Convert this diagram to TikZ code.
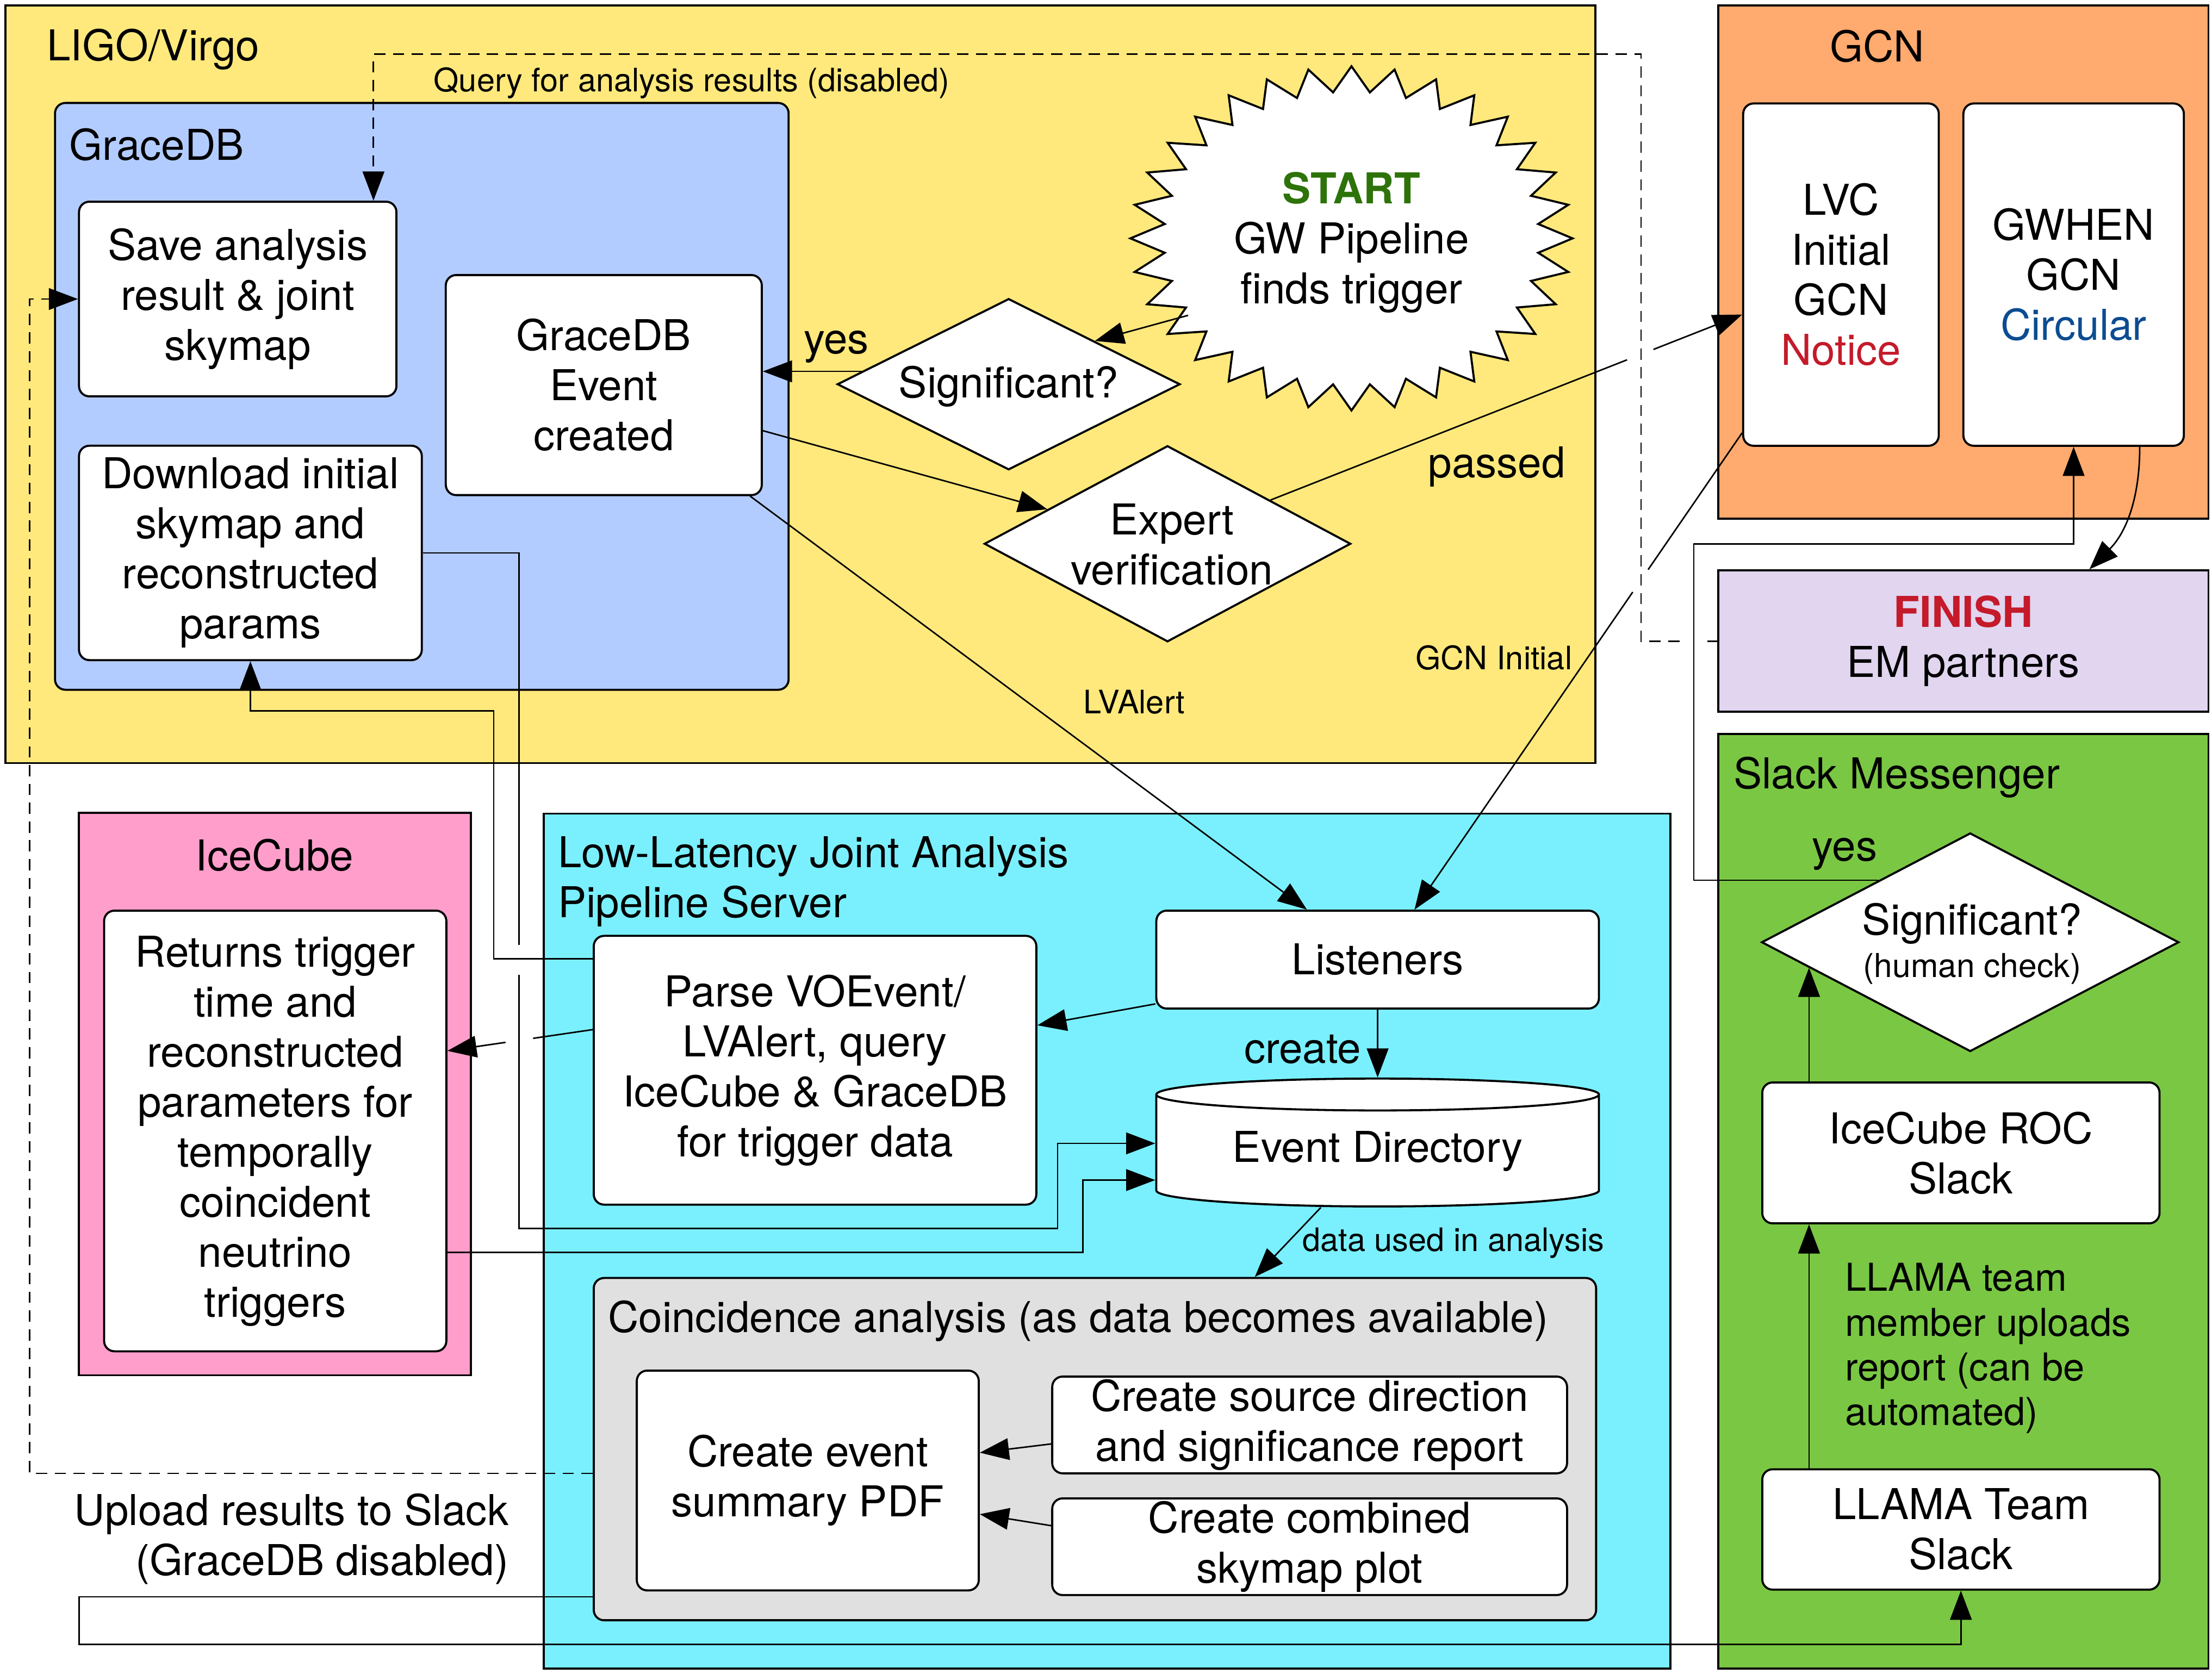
\documentclass[tikz,border=0pt]{standalone}
\usepackage{fontspec}
\setmainfont{TeX Gyre Heros}
\usetikzlibrary{shapes.geometric,arrows.meta,calc}
\definecolor{ligoyel}{RGB}{255,233,124}
\definecolor{gdblue}{RGB}{179,204,255}
\definecolor{gcnor}{RGB}{255,170,110}
\definecolor{finpur}{RGB}{225,213,240}
\definecolor{slackgr}{RGB}{122,199,68}
\definecolor{icepink}{RGB}{255,158,203}
\definecolor{srvcyan}{RGB}{122,240,255}
\definecolor{coincgr}{RGB}{224,224,224}
\definecolor{startgr}{RGB}{45,115,10}
\definecolor{finred}{RGB}{196,26,42}
\definecolor{circblue}{RGB}{12,76,145}
\tikzset{
  grp/.style={draw, line width=1.1pt},
  box/.style={draw, fill=white, rounded corners=5.5pt, line width=1.1pt, align=center},
  dia/.style={draw, fill=white, diamond, line width=1.1pt},
  arr/.style={line width=0.8pt, -{Triangle[length=15.5pt,width=11.5pt]}},
  dashline/.style={dash pattern=on 6pt off 4pt},
  small/.style={font=\fontsize{17.2}{20.6}\selectfont}
}
\begin{document}
\begin{tikzpicture}[x=0.75pt, y=-0.75pt, every node/.style={font=\fontsize{22.6}{26.6}\selectfont, inner sep=0pt}]
\fill[white] (0,0) rectangle (1568,1191);
\useasboundingbox (0,0) rectangle (1568,1191);

\node[grp, fill=ligoyel, minimum width=845.25pt, minimum height=402.75pt] (ligo) at (567.5,272.5) {};
\node[grp, fill=gdblue, rounded corners=5.5pt, minimum width=390pt, minimum height=312pt] (gracedb) at (299,281) {};
\node[grp, fill=gcnor, minimum width=260.6pt, minimum height=272.7pt] (gcn) at (1391.75,185.8) {};
\node[grp, fill=finpur, minimum width=260.6pt, minimum height=75.2pt, align=center] (finish) at (1391.75,454.5) {{\color{finred}\bfseries FINISH}\\EM partners};
\node[grp, fill=slackgr, minimum width=260.6pt, minimum height=496.9pt] (slackm) at (1391.75,851.75) {};
\node[grp, fill=icepink, minimum width=208.35pt, minimum height=299pt] (icecube) at (194.9,775.65) {};
\node[grp, fill=srvcyan, minimum width=598.95pt, minimum height=454.65pt] (server) at (784.7,879.9) {};
\node[grp, fill=coincgr, rounded corners=5.5pt, minimum width=532.9pt, minimum height=182pt] (coinc) at (776.15,1027.35) {};

\node[anchor=west] (ligoLbl) at (33,35) {LIGO/Virgo};
\node[anchor=west] (gdLbl) at (49,102.5) {GraceDB};
\node (gcnLbl) at (1330.6,32.7) {GCN};
\node (iceLbl) at (194.6,606.4) {IceCube};
\node[anchor=west] (slackLbl) at (1228.7,551) {Slack Messenger};
\node[anchor=west, align=left] (srvLbl) at (395.3,625) {Low-Latency Joint Analysis\\Pipeline Server};
\node[anchor=west] (coincLbl) at (430.7,936.4) {Coincidence analysis (as data becomes available)};

\node[box, minimum width=168.75pt, minimum height=103.5pt] (save) at (168.5,212) {Save analysis\\result \& joint\\skymap};
\node[box, minimum width=168pt, minimum height=117pt] (gde) at (428,273) {GraceDB\\Event\\created};
\node[box, minimum width=182.25pt, minimum height=114pt] (dl) at (177.5,392) {Download initial\\skymap and\\reconstructed\\params};

\draw[line width=1.1pt, fill=white, shift={(958,169)}] (90:156.7 and 122)
  \foreach \i in {1,...,63} { -- ({90+5.625*\i}:{156.7-23.7*mod(\i,2)} and {122-18*mod(\i,2)}) } -- cycle;
\node[ellipse, minimum width=199.5pt, minimum height=156pt, align=center] (start) at (958,172) {{\color{startgr}\bfseries START}\\GW Pipeline\\finds trigger};

\node[dia, minimum width=182.25pt, minimum height=91pt] (sig1) at (715,272.4) {};
\node (sig1Txt) at (715,274) {Significant?};
\node[dia, minimum width=194.8pt, minimum height=104.25pt] (expert) at (827.6,385.5) {};
\node[align=center] (expertTxt) at (830.7,386) {Expert\\verification};

\node[box, minimum width=104pt, minimum height=182pt] (lvc) at (1305,194.7) {LVC\\Initial\\GCN\\{\color{finred}Notice}};
\node[box, minimum width=117.2pt, minimum height=182pt] (gwhen) at (1469.9,194.7) {GWHEN\\GCN\\{\color{circblue}Circular}};

\node[dia, minimum width=221.85pt, minimum height=116.2pt] (sig2) at (1396.6,668) {};
\node[align=center] (sig2Txt) at (1398,669) {Significant?\\[-4pt]{\fontsize{17.5}{20}\selectfont (human check)}};
\node[box, minimum width=211.2pt, minimum height=74.9pt] (roc) at (1390,817.35) {IceCube ROC\\Slack};
\node[box, minimum width=211.2pt, minimum height=64pt] (team) at (1390,1084.3) {LLAMA Team\\Slack};

\node[box, minimum width=181.95pt, minimum height=234.3pt] (icetrig) at (195.1,801.8) {Returns trigger\\time and\\reconstructed\\parameters for\\temporally\\coincident\\neutrino\\triggers};
\node[box, minimum width=235.3pt, minimum height=52.05pt] (listen) at (976.55,680.3) {Listeners};
\node[box, minimum width=235.3pt, minimum height=142.9pt] (parse) at (577.75,758.75) {Parse VOEvent/\\LVAlert, query\\IceCube \& GraceDB\\for trigger data};
\node[draw, fill=white, cylinder, shape border rotate=90, aspect=0.11, line width=1.1pt, minimum width=235.3pt, minimum height=68pt] (evdir) at (976.55,816) {Event Directory};
\node[box, minimum width=181.8pt, minimum height=116.85pt] (pdf) at (572.6,1049.6) {Create event\\summary PDF};
\node[box, minimum width=273.7pt, minimum height=51.45pt] (srcdir) at (928.35,1010.2) {Create source direction\\and significance report};
\node[box, minimum width=273.7pt, minimum height=51.4pt] (comb) at (928.35,1096.55) {Create combined\\skymap plot};

\coordinate (gcnEnd) at ([xshift=19.6pt]listen.north);
\coordinate (dirIn) at (819.7,810.6);
\draw[arr] (sig1.175) -- (sig1.175 -| gde.east);
\draw[arr] (start.204) -- (sig1.north east);
\draw[arr] (gde.-16) -- (expert.164);
\draw[arr] (expert.23) -- ($(expert.23)!0.756!(lvc.202)$) ($(expert.23)!0.812!(lvc.202)$) -- (lvc.202);
\draw[arr] (lvc.238) -- ($(lvc.238)!0.287!(gcnEnd)$) ($(lvc.238)!0.334!(gcnEnd)$) -- (gcnEnd);
\draw[arr] ([xshift=-6.75pt]gde.south east) -- ([xshift=-37.6pt]listen.north);
\draw[arr] ([yshift=3pt]listen.south west) -- ([yshift=23.9pt]parse.east);
\draw[arr] (listen.south) -- (evdir.90);
\draw[arr] ([yshift=-12.8pt]parse.north west) -| (350,504) -| (dl.south);
\draw[arr] (dl.east) -- (368,392) -- (368,670) (368,691) -- (368,871) -| ([xshift=-52.5pt]dirIn) -- (dirIn -| evdir.west);
\draw[arr] ([yshift=21.6pt]parse.west) -- ($([yshift=21.6pt]parse.west)!0.41!([yshift=42.6pt]icetrig.east)$) ($([yshift=21.6pt]parse.west)!0.6!([yshift=42.6pt]icetrig.east)$) -- ([yshift=42.6pt]icetrig.east);
\draw[arr] ([yshift=-64.65pt]icetrig.east) -| ([xshift=-39pt,yshift=-19.5pt]dirIn) -- ([yshift=-19.5pt]dirIn -| evdir.west);
\draw[arr] ([xshift=-30.2pt]evdir.270) -- ([xshift=85pt]coinc.north);
\draw[arr] ([yshift=-10.1pt]srcdir.west) -- ([yshift=14.8pt]pdf.east);
\draw[arr] ([yshift=11.2pt]comb.west) -- ([yshift=-17.9pt]pdf.east);
\draw[arr] ([yshift=13pt]coinc.south west) -| (56,1165.8) -| (team.south);
\draw[arr] (team.north -| sig2.189) -- (roc.south -| sig2.189);
\draw[arr] (roc.north -| sig2.189) -- (sig2.189);
\draw[arr] (sig2.146) -| (1200.7,385.5) -| (gwhen.south);
\draw[arr] (gwhen.-69) to[out=-90, in=45] ([xshift=67pt]finish.north);
\draw[arr, dashline] ([yshift=-12.9pt]coinc.west) -| (21,212) -- (save.west);
\draw[arr, dashline] (finish.west) -- ++(-6.8,0) ++(-20,0) -| (1163.3,38.5) -| ([xshift=-12.75pt]save.north east);

\node (yes1) at (592.8,246) {yes};
\node (passedLbl) at (1061,331) {passed};
\node[small] (gcnIni) at (1059,466.4) {GCN Initial};
\node[small] (lvalertLbl) at (804,497.7) {LVAlert};
\node (createLbl) at (923.4,744) {create};
\node[small, anchor=west] (usedLbl) at (923,881.3) {data used in analysis};
\node (yes2) at (1307.6,605.5) {yes};
\node[anchor=west, align=left, font=\fontsize{20.4}{23.8}\selectfont] (uploadsLbl) at (1307.6,956) {LLAMA team\\member uploads\\report (can be\\automated)};
\node[anchor=east, align=right] (slackUp) at (360.7,1091) {Upload results to Slack\\(GraceDB disabled)};
\node[small, anchor=west] (queryLbl) at (307.2,59) {Query for analysis results (disabled)};
\end{tikzpicture}
\end{document}
